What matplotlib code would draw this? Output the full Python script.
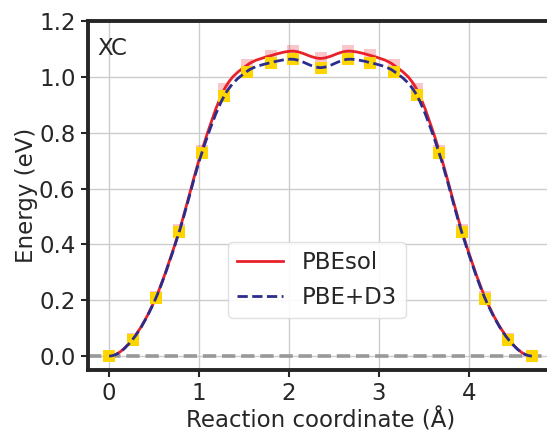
import numpy as np
import matplotlib
matplotlib.use('Agg')
import matplotlib.pyplot as plt
from matplotlib.path import Path
from matplotlib.patches import PathPatch

# reaction coordinate of the NEB images (Å)
coord = [0.00, 0.26, 0.52, 0.78, 1.03, 1.28, 1.53, 1.80, 2.04, 2.35,
         2.66, 2.90, 3.17, 3.42, 3.67, 3.92, 4.18, 4.44, 4.70]
# image energies (eV)
e_pbesol = [0.000, 0.060, 0.210, 0.450, 0.735, 0.955, 1.041, 1.076, 1.092, 1.066,
            1.092, 1.077, 1.041, 0.955, 0.735, 0.450, 0.210, 0.060, 0.000]
e_pbed3 = [0.000, 0.059, 0.208, 0.446, 0.727, 0.932, 1.019, 1.051, 1.063, 1.033,
           1.063, 1.051, 1.019, 0.934, 0.726, 0.444, 0.206, 0.059, 0.000]

RED = '#e8212a'
NAVY = '#2b2d8c'
GOLD = '#ffd500'
TXT = '#262626'

plt.rcParams.update({
    'font.family': 'DejaVu Sans', 'font.size': 16.5,
    'text.color': TXT, 'axes.labelcolor': TXT,
    'xtick.color': TXT, 'ytick.color': TXT,
})


def smooth_path(x, y):
    """Cubic Hermite path through the points, flat at both ends."""
    x = np.asarray(x, float)
    y = np.asarray(y, float)
    m = np.gradient(y, x)
    m[0] = m[-1] = 0.0
    verts = [(x[0], y[0])]
    codes = [Path.MOVETO]
    for i in range(len(x) - 1):
        h = x[i + 1] - x[i]
        verts += [(x[i] + h / 3, y[i] + m[i] * h / 3),
                  (x[i + 1] - h / 3, y[i + 1] - m[i + 1] * h / 3),
                  (x[i + 1], y[i + 1])]
        codes += [Path.CURVE4] * 3
    return Path(verts, codes)


fig = plt.figure(figsize=(5.47, 4.33), dpi=100)
ax = fig.add_axes([88 / 547, 63 / 433, 465 / 547, 349 / 433])

ax.axhline(0, color='#999999', linestyle='--', linewidth=2.6, zorder=1)

ax.plot(coord, e_pbesol, 's', color=RED, alpha=0.25, markersize=8, markeredgewidth=0, zorder=2)
ax.add_patch(PathPatch(smooth_path(coord, e_pbesol), fill=False, edgecolor=RED,
                       linewidth=2, zorder=3))
ax.plot(coord, e_pbed3, 's', color=GOLD, markersize=8, markeredgewidth=0, zorder=4)
ax.add_patch(PathPatch(smooth_path(coord, e_pbed3), fill=False, edgecolor=NAVY,
                       linewidth=2, linestyle='--', zorder=5))

# legend proxies
ax.plot([], [], color=RED, linewidth=2, label='PBEsol')
ax.plot([], [], color=NAVY, linewidth=2, linestyle='--', label='PBE+D3')

ax.set_xlim(-0.235, 4.935)
ax.set_ylim(-0.05, 1.2)
ax.set_xticks([0, 1, 2, 3, 4])
ax.set_yticks(np.arange(0, 1.21, 0.2))
ax.yaxis.set_major_formatter(plt.FormatStrFormatter('%.1f'))
ax.grid(True, color='#cccccc', linewidth=1)
ax.set_axisbelow(True)
for s in ax.spines.values():
    s.set_linewidth(2.8)
    s.set_color(TXT)
ax.tick_params(direction='out', length=5, width=1.5, pad=4)

ax.set_xlabel('Reaction coordinate (Å)', labelpad=2)
ax.set_ylabel('Energy (eV)', labelpad=1)
ax.text(0.02, 0.955, 'XC', transform=ax.transAxes, ha='left', va='top', fontsize=16.5)

ax.legend(loc='upper left', bbox_to_anchor=(0.301, 0.367), borderaxespad=0,
          fontsize=16.5, framealpha=0.9, edgecolor='#dddddd')

fig.savefig('out.png', dpi=100)
